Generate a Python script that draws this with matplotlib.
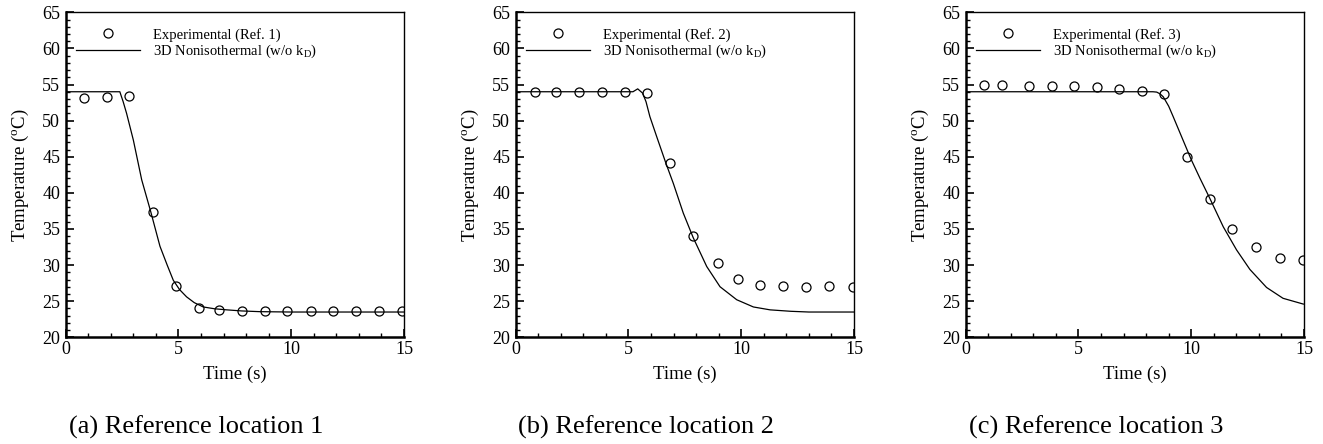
import matplotlib
matplotlib.use("Agg")
import matplotlib.pyplot as plt
from matplotlib.ticker import MultipleLocator

plt.rcParams['font.family'] = ['Liberation Serif', 'DejaVu Serif']
plt.rcParams['mathtext.fontset'] = 'custom'
plt.rcParams['mathtext.rm'] = 'Liberation Serif'
plt.rcParams['mathtext.it'] = 'Liberation Serif:italic'

# experimental measurements
t_exp1 = [0.83, 1.82, 2.82, 3.86, 4.89, 5.91, 6.81, 7.80, 8.83, 9.82, 10.87, 11.86, 12.87, 13.88, 14.93]
T_exp1 = [53.1, 53.3, 53.4, 37.4, 27.1, 24.1, 23.8, 23.6, 23.6, 23.6, 23.6, 23.6, 23.6, 23.6, 23.6]
t_exp2 = [0.84, 1.80, 2.81, 3.82, 4.83, 5.82, 6.82, 7.87, 8.95, 9.86, 10.84, 11.84, 12.89, 13.91, 14.94]
T_exp2 = [54.0, 54.0, 54.0, 54.0, 54.0, 53.85, 44.1, 34.0, 30.3, 28.1, 27.2, 27.1, 27.0, 27.1, 27.0]
t_exp3 = [0.81, 1.62, 2.79, 3.82, 4.80, 5.83, 6.78, 7.83, 8.78, 9.82, 10.82, 11.81, 12.89, 13.92, 14.96]
T_exp3 = [55.0, 55.0, 54.85, 54.75, 54.75, 54.7, 54.4, 54.15, 53.7, 45.0, 39.1, 35.0, 32.5, 31.0, 30.7]

# 3D nonisothermal simulation (w/o kD)
t_sim1 = [0, 2.40, 2.55, 2.70, 3.00, 3.37, 3.77, 4.18, 4.50, 4.77, 5.05, 5.36, 5.70, 6.10, 6.60, 7.14, 7.80, 8.60, 10.0, 15.0]
T_sim1 = [54.0, 54.0, 52.6, 51.0, 47.3, 41.8, 37.4, 32.6, 30.0, 27.9, 26.6, 25.6, 24.8, 24.2, 23.95, 23.8, 23.65, 23.55, 23.5, 23.5]
t_sim2 = [0, 5.20, 5.41, 5.63, 5.78, 5.95, 6.25, 6.66, 6.99, 7.43, 7.87, 8.47, 9.06, 9.80, 10.54, 11.28, 12.2, 13.0, 15.0]
T_sim2 = [54.0, 54.0, 54.4, 53.8, 52.6, 50.55, 47.8, 44.1, 41.3, 37.2, 33.8, 29.8, 27.0, 25.2, 24.2, 23.8, 23.6, 23.5, 23.5]
t_sim3 = [0, 8.30, 8.47, 8.62, 8.76, 9.00, 9.20, 9.65, 10.00, 10.39, 10.83, 11.42, 12.01, 12.60, 13.34, 14.07, 14.97]
T_sim3 = [54.0, 54.0, 53.95, 53.7, 53.3, 52.0, 50.55, 47.2, 44.6, 42.0, 39.2, 35.3, 32.1, 29.4, 26.9, 25.4, 24.6]

exp_t = [t_exp1, t_exp2, t_exp3]
exp_T = [T_exp1, T_exp2, T_exp3]
sim_t = [t_sim1, t_sim2, t_sim3]
sim_T = [T_sim1, T_sim2, T_sim3]
refs = ['Ref. 1', 'Ref. 2', 'Ref. 3']
captions = ['(a) Reference location 1', '(b) Reference location 2', '(c) Reference location 3']

W, H = 1323, 444
fig = plt.figure(figsize=(W / 100, H / 100), dpi=100)
lefts = [65.7, 515.7, 965.7]
ax_w, ax_top, ax_bot = 338.3, 12.3, 337.3

for i in range(3):
    ax = fig.add_axes([lefts[i] / W, (H - ax_bot) / H, ax_w / W, (ax_bot - ax_top) / H])
    ax.plot(exp_t[i], exp_T[i], 'o', mfc='none', mec='black', ms=6.5, mew=0.9,
            label='Experimental (%s)' % refs[i])
    ax.plot(sim_t[i], sim_T[i], '-', color='black', lw=0.9,
            label='3D Nonisothermal (w/o k$_\\mathrm{D}$)')
    ax.set_xlim(0, 15)
    ax.set_ylim(20, 65)
    ax.xaxis.set_major_locator(MultipleLocator(5))
    ax.xaxis.set_minor_locator(MultipleLocator(1))
    ax.yaxis.set_major_locator(MultipleLocator(5))
    ax.yaxis.set_minor_locator(MultipleLocator(1))
    ax.tick_params(which='both', direction='in', top=False, right=False, labelsize=13)
    ax.tick_params(which='major', length=6, width=1.2, pad=3)
    ax.tick_params(which='minor', length=3.2, width=1.0)
    ax.tick_params(axis='y', which='major', pad=4)
    for side in ['left', 'bottom']:
        ax.spines[side].set_linewidth(1.8)
    for side in ['top', 'right']:
        ax.spines[side].set_linewidth(1.0)
    ax.set_xlabel('Time (s)', fontsize=13.5, labelpad=5.5)
    ax.set_ylabel('Temperature ($^\\mathrm{o}$C)', fontsize=13.5, labelpad=8)
    ax.legend(loc='upper left', bbox_to_anchor=(0.03, 0.953), frameon=False,
              fontsize=10.5, handlelength=4.4, handletextpad=0.9, labelspacing=0.1,
              borderpad=0, borderaxespad=0)
    cx = lefts[i] + ax_w / 2 - 39
    fig.text(cx / W, 1 - 427 / H, captions[i], ha='center', va='center', fontsize=19)

fig.savefig('out.png', dpi=100)
